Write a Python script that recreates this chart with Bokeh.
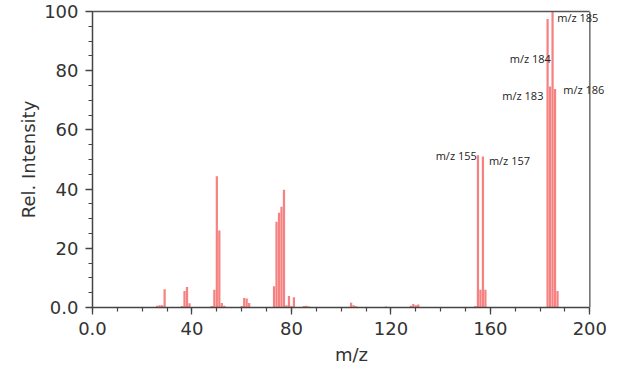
from bokeh.plotting import figure
from bokeh.models import Range1d, FixedTicker, Label, ColumnDataSource, LinearAxis, Span
from bokeh.embed import file_html
from bokeh.resources import INLINE

# m/z values and relative intensities
mz = [26, 27, 28, 29, 36, 37, 38, 39, 48, 49, 50, 51, 52, 53,
      60, 61, 62, 63, 73, 74, 75, 76, 77, 78, 79, 80, 81, 85, 86, 87,
      104, 105, 106, 110, 114, 118, 128, 129, 130, 131,
      154, 155, 156, 157, 158, 183, 184, 185, 186, 187]
intensity = [0.6, 0.8, 0.8, 6.2, 0.5, 5.6, 6.9, 1.4, 0.5, 6.0, 44.3, 26.0, 1.5, 0.6,
             0.5, 3.2, 3.0, 1.5, 7.2, 29.0, 32.0, 34.0, 39.8, 0.8, 3.9, 0.5, 3.5, 0.5, 0.6, 0.3,
             1.6, 0.8, 0.4, 0.2, 0.2, 0.3, 0.6, 1.2, 0.8, 1.0,
             0.5, 51.4, 6.0, 51.0, 6.0, 97.5, 74.7, 100.0, 73.8, 5.6]

x_ticks = [0, 40, 80, 120, 160, 200]
x_tick_labels = ["0.0", "40", "80", "120", "160", "200"]
y_ticks = [0, 20, 40, 60, 80, 100]
y_tick_labels = ["0.0", "20", "40", "60", "80", "100"]

peak_labels = ["m/z 155", "m/z 157", "m/z 184", "m/z 183", "m/z 186", "m/z 185"]
peak_label_x = [138.0, 159.4, 167.8, 164.8, 189.3, 186.9]
peak_label_y = [51.4, 49.6, 84.2, 71.6, 73.8, 98.0]

x_min, x_max = x_ticks[0], x_ticks[-1]
y_min, y_max = y_ticks[0], y_ticks[-1]

# frame is extended a little past x=200 so the peak labels are not clipped;
# the visible box (axes + borders) is bounded at 0..200
p = figure(width=630, height=389, output_backend="svg", toolbar_location=None,
           x_range=Range1d(x_min, 208.3), y_range=Range1d(y_min, y_max),
           min_border_left=92, min_border_right=20, min_border_top=11, min_border_bottom=82)

src = ColumnDataSource(dict(x=mz, top=intensity))
p.vbar(x="x", top="top", bottom=0, width=0.9, source=src,
       fill_color="#f57a7a", fill_alpha=0.95, line_color=None)

p.xgrid.visible = False
p.ygrid.visible = False
p.outline_line_color = None
p.background_fill_color = "white"
p.border_fill_color = "white"

p.xaxis.ticker = FixedTicker(ticks=x_ticks, minor_ticks=list(range(0, 201, 10)))
p.yaxis.ticker = FixedTicker(ticks=y_ticks, minor_ticks=list(range(0, 101, 5)))
p.xaxis.major_label_overrides = {t: l for t, l in zip(x_ticks, x_tick_labels)}
p.yaxis.major_label_overrides = {t: l for t, l in zip(y_ticks, y_tick_labels)}
p.xaxis.bounds = (x_min, x_max)

for ax in (p.xaxis[0], p.yaxis[0]):
    ax.axis_line_color = "#444444"
    ax.axis_line_width = 1.5
    ax.major_tick_line_color = "#444444"
    ax.minor_tick_line_color = "#444444"
    ax.major_tick_line_width = 1.3
    ax.minor_tick_line_width = 1.2
    ax.major_tick_out = 7
    ax.major_tick_in = 0
    ax.minor_tick_out = 4
    ax.minor_tick_in = 0
    ax.major_label_text_font = "DejaVu Sans"
    ax.major_label_text_font_size = "18px"
    ax.major_label_text_color = "#333333"
    ax.axis_label_text_font = "DejaVu Sans"
    ax.axis_label_text_font_size = "18px"
    ax.axis_label_text_font_style = "normal"
    ax.axis_label_text_color = "#333333"

p.xaxis.axis_label = "m/z"
p.yaxis.axis_label = "Rel. Intensity"
p.xaxis.major_label_standoff = 7
p.yaxis.major_label_standoff = 7
p.xaxis.axis_label_standoff = 6
p.yaxis.axis_label_standoff = 2

# top border (bounded axis with no ticks) and right border at x = 200
top = LinearAxis(ticker=FixedTicker(ticks=[]), bounds=(x_min, x_max),
                 axis_line_color="#555555", axis_line_width=1.3,
                 major_tick_out=0, minor_tick_out=0, major_label_standoff=0)
p.add_layout(top, "above")
p.add_layout(Span(location=x_max, dimension="height", line_color="#555555", line_width=1.3))

for t, x, y in zip(peak_labels, peak_label_x, peak_label_y):
    p.add_layout(Label(x=x, y=y, text=t, text_font="Open Sans", text_font_size="11px",
                       text_color="#222222", text_baseline="middle", text_align="left"))

open("out.html", "w").write(file_html(p, INLINE))
